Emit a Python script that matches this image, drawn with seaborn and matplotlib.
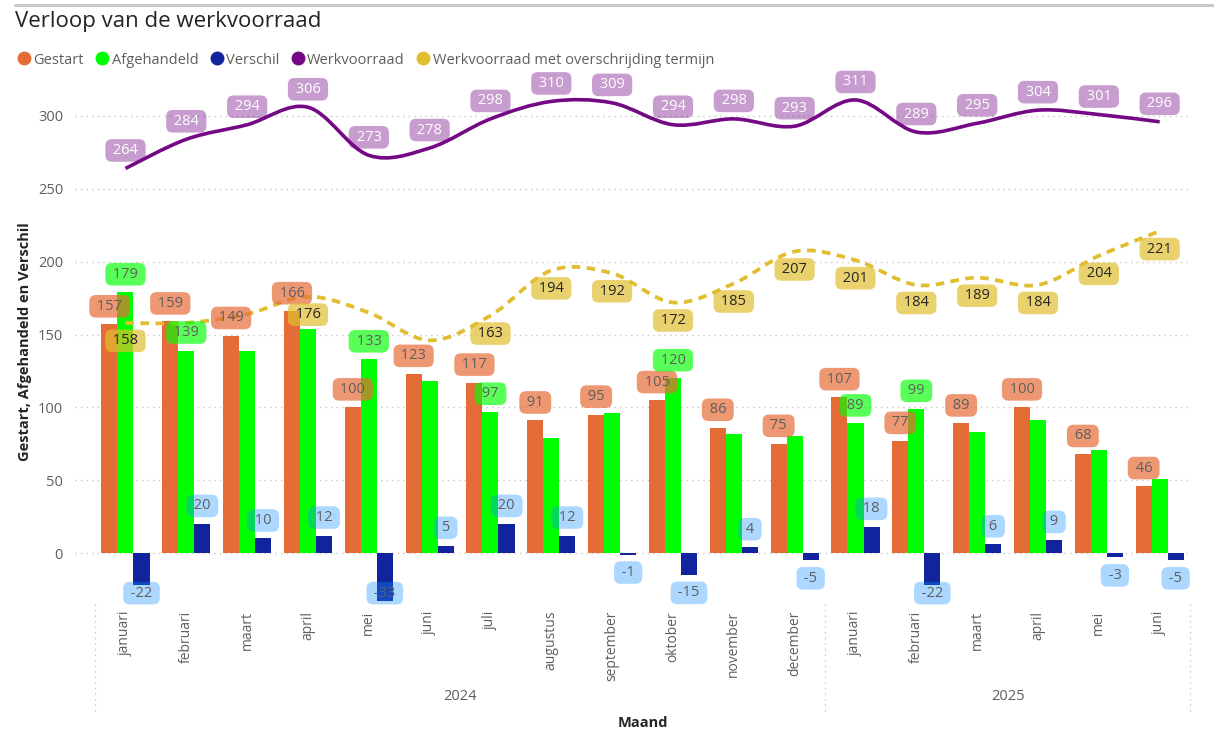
"""
Verloop van de werkvoorraad - gecombineerde staaf/lijn grafiek
"""
import numpy as np
import pandas as pd
import matplotlib.pyplot as plt
import matplotlib.colors as mcolors
import seaborn as sns
from matplotlib.path import Path
from matplotlib.patches import PathPatch
from matplotlib.lines import Line2D

maanden = ["januari", "februari", "maart", "april", "mei", "juni", "juli",
           "augustus", "september", "oktober", "november", "december",
           "januari", "februari", "maart", "april", "mei", "juni"]
jaren = ["2024"] * 12 + ["2025"] * 6

gestart = [157, 159, 149, 166, 100, 123, 117, 91, 95, 105, 86, 75, 107, 77, 89, 100, 68, 46]
afgehandeld = [179, 139, 139, 154, 133, 118, 97, 79, 96, 120, 82, 80, 89, 99, 83, 91, 71, 51]
verschil = [-22, 20, 10, 12, -33, 5, 20, 12, -1, -15, 4, -5, 18, -22, 6, 9, -3, -5]
werkvoorraad = [264, 284, 294, 306, 273, 278, 298, 310, 309, 294, 298, 293, 311, 289, 295, 304, 301, 296]
overschrijding = [158, 158, 164, 176, 165, 146, 163, 194, 192, 172, 185, 207, 201, 184, 189, 184, 204, 221]

# labels die Power BI toont (de rest valt weg door overlap)
toon_afgehandeld = [1, 1, 0, 0, 1, 0, 1, 0, 0, 1, 0, 0, 1, 1, 0, 0, 0, 0]
toon_overschrijding = [1, 0, 0, 1, 0, 0, 1, 1, 1, 1, 1, 1, 1, 1, 1, 1, 1, 1]

C_GESTART = "#E66C37"
C_AFGEH = "#00FF00"
C_VERSCHIL = "#12239E"
C_WERK = "#750985"
C_OVER = "#E0BE30"
GRIJS = "#605E5C"
DONKER = "#252423"

sns.set_theme(style="white")
plt.rcParams['font.family'] = ['Open Sans', 'DejaVu Sans']

keys = [f"{j}-{m}" for j, m in zip(jaren, maanden)]
df = pd.DataFrame({
    "key": keys * 3,
    "serie": ["Gestart"] * 18 + ["Afgehandeld"] * 18 + ["Verschil"] * 18,
    "waarde": gestart + afgehandeld + verschil,
})

fig = plt.figure(figsize=(12.14, 7.36), dpi=100)
ax = fig.add_axes([0.0783, 0.1793, 0.902, 0.7126])

sns.barplot(data=df, x="key", y="waarde", hue="serie", order=keys,
            palette=[C_GESTART, C_AFGEH, C_VERSCHIL], saturation=1,
            width=0.79, gap=0, linewidth=0, legend=False, ax=ax, zorder=2)

ax.set_ylim(-35, 325)
ax.set_xlim(-0.5, 17.5)
ppu = 524.5 / 360  # pixels per eenheid


def smooth_path(xs, ys):
    pts = np.column_stack([xs, ys]).astype(float)
    n = len(pts)
    verts, codes = [pts[0]], [Path.MOVETO]
    for i in range(n - 1):
        p0, p1 = pts[max(i - 1, 0)], pts[i]
        p2, p3 = pts[i + 1], pts[min(i + 2, n - 1)]
        verts += [p1 + (p2 - p0) / 6, p2 - (p3 - p1) / 6, p2]
        codes += [Path.CURVE4] * 3
    return Path(verts, codes)


xs = np.arange(len(keys))
ax.add_patch(PathPatch(smooth_path(xs, werkvoorraad), fill=False,
                       edgecolor=C_WERK, lw=2.6, zorder=4, capstyle="butt"))
ax.add_patch(PathPatch(smooth_path(xs, overschrijding), fill=False,
                       edgecolor=C_OVER, lw=2.7, ls=(0, (2.3, 1.7)), zorder=4))


def label(x, y, tekst, kleur, alpha, tc):
    ax.text(x, y, f" {tekst} ", ha="center", va="center", fontsize=10.5, color=tc,
            zorder=10, clip_on=False,
            bbox=dict(boxstyle="round,pad=0.26,rounding_size=0.45",
                      fc=mcolors.to_rgba(kleur, alpha), ec="none"))


off = 18 / ppu
containers = ax.containers
for i, bar in enumerate(containers[0]):
    xc = bar.get_x() + bar.get_width() / 2
    label(xc, gestart[i] + off, gestart[i], C_GESTART, 0.7, GRIJS)
for i, bar in enumerate(containers[1]):
    if toon_afgehandeld[i]:
        xc = bar.get_x() + bar.get_width() / 2
        label(xc, afgehandeld[i] + off, afgehandeld[i], C_AFGEH, 0.65, GRIJS)
for i, bar in enumerate(containers[2]):
    xc = bar.get_x() + bar.get_width() / 2
    v = verschil[i]
    y = v + off if v >= 0 else max(v - off, -27.5)
    label(xc, y, v, "#118DFF", 0.35, GRIJS)
for i, v in enumerate(werkvoorraad):
    label(i, v + off, v, C_WERK, 0.4, "white")
for i, v in enumerate(overschrijding):
    if toon_overschrijding[i]:
        label(i, v - off, v, C_OVER, 0.7, DONKER)

# assen
for s in ax.spines.values():
    s.set_visible(False)
ax.set_yticks(range(0, 301, 50))
ax.tick_params(axis="y", length=0, pad=23, labelsize=10.5, labelcolor=GRIJS)
for t in range(0, 301, 50):
    ax.axhline(t, xmin=-0.018, xmax=1, color="#C8C6C4", lw=1, ls=(0, (1, 3)),
               clip_on=False, zorder=1)
ax.set_xticks(xs)
ax.set_xticklabels(maanden, rotation=90, fontsize=10, color=GRIJS)
ax.tick_params(axis="x", length=0, pad=5)
ax.set_xlabel("")
ax.set_ylabel("")

tr = ax.get_xaxis_transform()
for xpos in (-0.5, 11.5, 17.5):
    ax.plot([xpos, xpos], [0, -0.206], transform=tr, color="#C8C6C4", lw=1,
            ls=(0, (1, 3)), clip_on=False)
ax.text(5.5, -0.177, "2024", transform=tr, ha="center", va="center",
        fontsize=10.5, color=GRIJS)
ax.text(14.5, -0.177, "2025", transform=tr, ha="center", va="center",
        fontsize=10.5, color=GRIJS)
ax.text(8.5, -0.227, "Maand", transform=tr, ha="center", va="center",
        fontsize=10.5, fontweight="bold", color=DONKER)

fig.text(25 / 1214, 1 - 342 / 736, "Gestart, Afgehandeld en Verschil",
         rotation=90, ha="center", va="center", fontsize=10.5,
         fontweight="bold", color=DONKER)

# titel, lijn en legenda
fig.add_artist(Line2D([15 / 1214, 1], [1 - 5 / 736] * 2, color="#C8C8C8", lw=2.2))
fig.text(15 / 1214, 1 - 22 / 736, "Verloop van de werkvoorraad", ha="left",
         va="center", fontsize=16, color=DONKER)
handles = [Line2D([], [], ls="", marker="o", markersize=9, color=c, label=l)
           for c, l in [(C_GESTART, "Gestart"), (C_AFGEH, "Afgehandeld"),
                        (C_VERSCHIL, "Verschil"), (C_WERK, "Werkvoorraad"),
                        (C_OVER, "Werkvoorraad met overschrijding termijn")]]
fig.legend(handles=handles, loc="center left", bbox_to_anchor=(0 / 1214, 1 - 60 / 736),
           ncol=5, frameon=False, fontsize=10.5, labelcolor=GRIJS,
           handletextpad=-0.1, columnspacing=0.5, handlelength=1.5)

fig.savefig("out.png", dpi=100)
plt.close(fig)
